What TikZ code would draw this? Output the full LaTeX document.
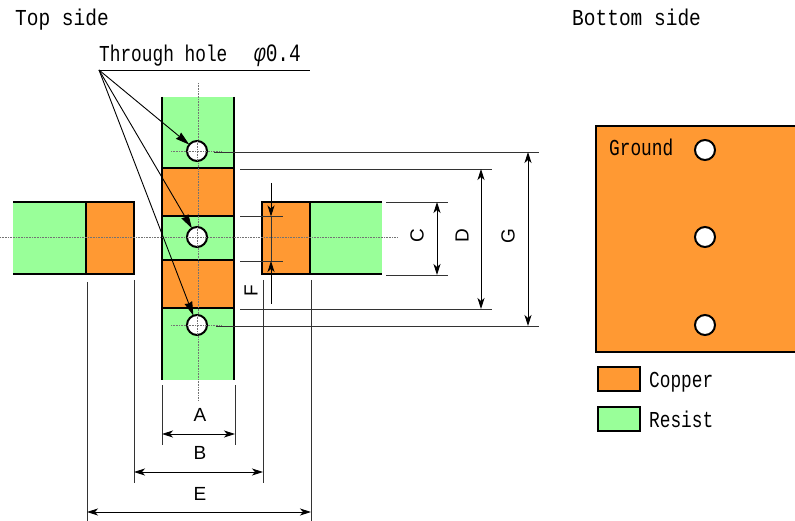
\documentclass[tikz,border=0pt]{standalone}
\usepackage{fontspec}
\setmainfont{Liberation Sans}
\newfontfamily\jmono{Liberation Mono}
\usetikzlibrary{arrows.meta}
\definecolor{copper}{HTML}{FF9933}
\definecolor{resist}{HTML}{99FF99}
\newcommand{\tallt}[1]{\scalebox{1}[1.17]{#1}}
\newcommand{\talln}[1]{\scalebox{1}[1.28]{#1}}
\tikzset{
  x=1pt,y=-1pt,
  pad/.style={draw=black,line width=1.9pt,inner sep=0pt,outer sep=0pt,rectangle},
  copperbox/.style={pad,fill=copper},
  resistfill/.style={fill=resist,draw=none},
  thick edge/.style={draw=black,line width=1.9pt},
  hole/.style={circle,draw=black,fill=white,line width=2pt,minimum size=20pt,inner sep=0pt,outer sep=0pt},
  center line/.style={draw=black!55,line width=0.6pt,densely dotted},
  dimline/.style={draw=black!80,line width=0.9pt},
  dimarrow/.style={draw=black,line width=0.9pt,{Stealth[length=11pt,width=7pt,inset=3pt]}-{Stealth[length=11pt,width=7pt,inset=3pt]}},
  onearrow/.style={draw=black,line width=0.9pt,-{Stealth[length=11pt,width=7pt,inset=3pt]}},
  leader/.style={draw=black,line width=0.9pt,-{Stealth[length=14pt,width=8pt,inset=1pt]}},
  mono/.style={font=\jmono\fontsize{19.5}{20}\selectfont,inner sep=0pt,anchor=base west},
  monosmall/.style={font=\jmono\fontsize{17.8}{20}\selectfont,inner sep=0pt,anchor=base west},
  dimlabel/.style={font=\fontsize{19}{20}\selectfont,inner sep=0pt},
  dimlabelv/.style={font=\fontsize{19}{20}\selectfont,inner sep=0pt,rotate=90},
}
\newcommand{\boxat}[6][]{\node[#1,anchor=north west,minimum width=#4pt,minimum height=#5pt] (#6) at (#2,#3) {};}
\begin{document}
\begin{tikzpicture}
\useasboundingbox (0,0) rectangle (795,521);
% green areas
\fill[resistfill] (162,97) rectangle (234,380);
\fill[resistfill] (13,202) rectangle (86,274);
\fill[resistfill] (310,202) rectangle (382,274);
% strip edges
\draw[thick edge] (162,97) -- (162,380);
\draw[thick edge] (234,97) -- (234,380);
\draw[thick edge] (13,202) -- (86,202);
\draw[thick edge] (13,274) -- (86,274);
\draw[thick edge] (310,202) -- (382,202);
\draw[thick edge] (310,274) -- (382,274);
% copper
\boxat[copperbox]{162}{168}{72}{48}{cu1}
\boxat[copperbox]{162}{260}{72}{48}{cu2}
\boxat[copperbox]{86}{202}{48}{72}{cuL}
\boxat[copperbox]{262}{202}{48}{72}{cuR}
% center lines
\coordinate (hl) at (0,237.5); \coordinate (hr) at (398,237.5);
\coordinate (vt) at (198,83); \coordinate (vb) at (198,400);
\draw[center line] (hl) -- (hr);
\draw[center line] (vt) -- (vb);
\draw[center line] (171,151) -- (222,151);
\draw[center line] (171,325) -- (222,325);
% holes
\node[hole] (h1) at (197,151) {};
\node[hole] (h2) at (197,237) {};
\node[hole] (h3) at (197,325) {};
\draw[center line] (187,151) -- (207,151) (197,141) -- (197,161);
\draw[center line] (187,237) -- (207,237) (197,227) -- (197,247);
\draw[center line] (187,325) -- (207,325) (197,315) -- (197,335);
% leader
\node[monosmall] (thl) at (99,62) {\talln{Through hole\hspace{1.5em}{\fontsize{19.5}{20}\selectfont\textit{φ}0.4}}};
\coordinate (la) at (99,70); \coordinate (lb) at (310,70);
\draw[draw=black,line width=0.9pt] (la) -- (lb);
\draw[leader] (la) -- (h1);
\draw[leader] (la) -- (h2);
\draw[leader] (la) -- (h3);
% extension lines, bottom
\draw[dimline] (162,385) -- (162,445);
\draw[dimline] (235,385) -- (235,445);
\draw[dimline] (134,280) -- (134,483);
\draw[dimline] (263,280) -- (263,483);
\draw[dimline] (87,282) -- (87,521);
\draw[dimline] (311,280) -- (311,521);
\draw[dimarrow] (162,434) -- (235,434);
\draw[dimarrow] (134,472) -- (263,472);
\draw[dimarrow] (87,512) -- (311,512);
\node[dimlabel] (lA) at (200,415) {A};
\node[dimlabel] (lB) at (200,452.5) {B};
\node[dimlabel] (lE) at (200,493.5) {E};
% extension lines, right
\draw[dimline] (386,202) -- (448,202);
\draw[dimline] (386,275) -- (448,275);
\draw[dimline] (240,169) -- (492,169);
\draw[dimline] (240,309) -- (492,309);
\draw[dimline] (214,152) -- (539,152);
\draw[dimline] (216,326) -- (539,326);
\draw[dimarrow] (437,202) -- (437,275);
\draw[dimarrow] (481,169) -- (481,309);
\draw[dimarrow] (528,152) -- (528,326);
\node[dimlabelv] (lC) at (417,236) {C};
\node[dimlabelv] (lD) at (462,236) {D};
\node[dimlabelv] (lG) at (508,236) {G};
% F
\draw[dimline] (240,216.5) -- (283,216.5);
\draw[dimline] (240,261) -- (283,261);
\draw[dimline] (271,216.5) -- (271,261);
\draw[onearrow] (271,183) -- (271,216.5);
\draw[onearrow] (271,304) -- (271,261);
\node[dimlabelv] (lF) at (251,291) {F};
% bottom side
\fill[copper] (596,126) rectangle (795,352);
\draw[thick edge] (795,126) -- (596,126) -- (596,352) -- (795,352);
\node[hole] (g1) at (705,150) {};
\node[hole] (g2) at (705,237) {};
\node[hole] (g3) at (705,325) {};
% legend
\boxat[copperbox]{598}{367}{42}{24}{legc}
\boxat[pad,fill=resist]{598}{407}{42}{24}{legr}
% texts
\node[mono] (t1) at (15,26) {\tallt{Top side}};
\node[mono] (t2) at (572,26) {\tallt{Bottom side}};
\node[monosmall] (t3) at (609,156) {\talln{Ground}};
\node[monosmall] (t4) at (649,387) {\talln{Copper}};
\node[monosmall] (t5) at (649,427) {\talln{Resist}};
\end{tikzpicture}
\end{document}
